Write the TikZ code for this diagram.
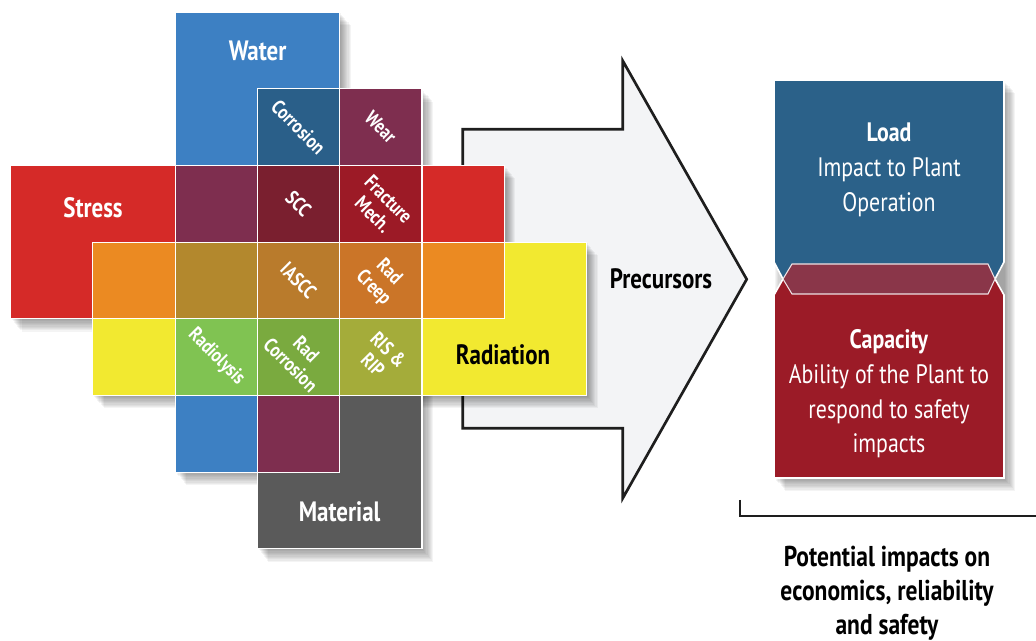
\documentclass[tikz,border=0pt]{standalone}
\usepackage{fontspec}
\setmainfont{PT Sans}[FakeStretch=0.82]
\usetikzlibrary{calc}
\definecolor{cWater}{HTML}{3D80C3}
\definecolor{cCorr}{HTML}{2A5F89}
\definecolor{cPurp}{HTML}{7E2E4F}
\definecolor{cRed}{HTML}{D52A28}
\definecolor{cSCC}{HTML}{7A1F2F}
\definecolor{cFrac}{HTML}{9C1A26}
\definecolor{cOrange}{HTML}{EB8A22}
\definecolor{cOchre}{HTML}{B3882D}
\definecolor{cIASCC}{HTML}{B97B2C}
\definecolor{cCreep}{HTML}{CB7528}
\definecolor{cYellow}{HTML}{F2E930}
\definecolor{cRadio}{HTML}{80C352}
\definecolor{cRadCorr}{HTML}{7AAA3F}
\definecolor{cRIS}{HTML}{A4AC3A}
\definecolor{cGray}{HTML}{5A5A5A}
\definecolor{cLoad}{HTML}{2B6189}
\definecolor{cCap}{HTML}{9B1B27}
\definecolor{cBand}{HTML}{8A3649}
\definecolor{cArrow}{HTML}{F3F4F6}
\definecolor{cLine}{HTML}{1E1E1E}
\newcommand\gridcell[6]{%
  \node[cellbox, fill=#6, minimum width={(#4-#2)*0.75pt}, minimum height={(#5-#3)*0.75pt}] (#1) at ({(#2+#4)/2},{(#3+#5)/2}) {};}
\newcommand\softshadow[4]{%
  \foreach \i in {1,...,10} {\fill[black,opacity=0.045] ({#1+\i*1.1},{#2+\i*1.3}) rectangle ({#3+\i*1.1},{#4+\i*1.3});}}
\begin{document}
\begin{tikzpicture}[x=0.75pt,y=-0.75pt,
  cellbox/.style={draw=white, line width=0.8pt, inner sep=0pt},
  biglabel/.style={font=\bfseries\fontsize{21}{25}\selectfont, text=white, inner sep=0pt},
  smalllabel/.style={font=\bfseries\fontsize{15}{16.5}\selectfont, text=white, rotate=-45, align=center, inner sep=0pt},
  bodytext/.style={font=\fontsize{20}{26}\selectfont, text=white, align=center, inner sep=0pt},
  arrowshape/.style={fill=cArrow, draw=cLine, line width=2pt, line join=miter},
  bracket/.style={draw=cLine, line width=1.5pt}]
\useasboundingbox (0,0) rectangle (1036,641);
\def\Xa{10.5}\def\Xb{92.8}\def\Xc{175.1}\def\Xd{257.4}\def\Xe{339.7}\def\Xf{422.0}\def\Xg{504.3}\def\Xh{586.6}
\def\Ya{12}\def\Yb{88.7}\def\Yc{165.4}\def\Yd{242.1}\def\Ye{318.8}\def\Yf{395.5}\def\Yg{472.2}\def\Yh{548.9}
% big arrow
\path[arrowshape] (462.7,129.3) -- (622.7,129.3) -- (622.7,60.7) -- (746.7,279.3) -- (622.7,498.3) -- (622.7,428.3) -- (462.7,428.3) -- cycle;
\node[font=\bfseries\fontsize{21}{25}\selectfont, inner sep=0pt] (prec) at (661,279) {Precursors};
% shadows of the four blocks
\softshadow{\Xc}{\Ya}{\Xe}{\Yg}
\softshadow{\Xd}{\Yb}{\Xf}{\Yh}
\softshadow{\Xa}{\Yc}{\Xg}{\Ye}
\softshadow{\Xb}{\Yd}{\Xh}{\Yf}
% base blocks
\gridcell{water}{\Xc}{\Ya}{\Xe}{\Yc}{cWater}
\gridcell{stress}{\Xa}{\Yc}{\Xc}{\Ye}{cRed}
\gridcell{radiation}{\Xf}{\Yd}{\Xh}{\Yf}{cYellow}
\gridcell{material}{\Xd}{\Yf}{\Xf}{\Yh}{cGray}
% row 1
\gridcell{corrosion}{\Xd}{\Yb}{\Xe}{\Yc}{cCorr}
\gridcell{wear}{\Xe}{\Yb}{\Xf}{\Yc}{cPurp}
% row 2
\gridcell{p2}{\Xc}{\Yc}{\Xd}{\Yd}{cPurp}
\gridcell{scc}{\Xd}{\Yc}{\Xe}{\Yd}{cSCC}
\gridcell{frac}{\Xe}{\Yc}{\Xf}{\Yd}{cFrac}
\gridcell{r2}{\Xf}{\Yc}{\Xg}{\Yd}{cRed}
% row 3
\gridcell{o1}{\Xb}{\Yd}{\Xc}{\Ye}{cOrange}
\gridcell{och}{\Xc}{\Yd}{\Xd}{\Ye}{cOchre}
\gridcell{iascc}{\Xd}{\Yd}{\Xe}{\Ye}{cIASCC}
\gridcell{creep}{\Xe}{\Yd}{\Xf}{\Ye}{cCreep}
\gridcell{o2}{\Xf}{\Yd}{\Xg}{\Ye}{cOrange}
% row 4
\gridcell{y1}{\Xb}{\Ye}{\Xc}{\Yf}{cYellow}
\gridcell{radio}{\Xc}{\Ye}{\Xd}{\Yf}{cRadio}
\gridcell{radcorr}{\Xd}{\Ye}{\Xe}{\Yf}{cRadCorr}
\gridcell{ris}{\Xe}{\Ye}{\Xf}{\Yf}{cRIS}
% row 5
\gridcell{b5}{\Xc}{\Yf}{\Xd}{\Yg}{cWater}
\gridcell{p5}{\Xd}{\Yf}{\Xe}{\Yg}{cPurp}
% big labels
\node[biglabel] (lwater) at (257.6,51) {Water};
\node[biglabel] (lstress) at (93,208) {Stress};
\node[biglabel, text=black] (lrad) at (503,354.5) {Radiation};
\node[biglabel] (lmat) at (339.6,512) {Material};
% small labels
\node[smalllabel] at (corrosion) {Corrosion};
\node[smalllabel] at (wear) {Wear};
\node[smalllabel] at (scc) {SCC};
\node[smalllabel] at ($(frac)+(0,3)$) {Fracture\\Mech.};
\node[smalllabel] at (iascc) {IASCC};
\node[smalllabel] at (creep) {Rad\\Creep};
\node[smalllabel] at (radio) {Radiolysis};
\node[smalllabel] at (radcorr) {Rad\\Corrosion};
\node[smalllabel] at (ris) {RIS \&\\RIP};
% right boxes
\softshadow{774}{80}{1004}{478}
\path[fill=cLoad, draw=white, line width=1.2pt] (774,80) -- (1004,80) -- (1004,262) -- (995,279) -- (783,279) -- (774,262) -- cycle;
\path[fill=cCap, draw=white, line width=1.2pt] (783,279) -- (995,279) -- (1004,295) -- (1004,478) -- (774,478) -- (774,295) -- cycle;
\path[fill=cBand, draw=white!85!cBand, line width=0.8pt] (792,264) -- (988,264) -- (995,279) -- (988,294) -- (792,294) -- (783,279) -- cycle;
\node[bodytext] (load) at (889,170) {\textbf{Load}\\Impact to Plant\\Operation};
\node[bodytext] (cap) at (889,394) {\textbf{Capacity}\\Ability of the Plant to\\respond to safety\\impacts};
% bracket
\coordinate (bk1) at (740,500);
\coordinate (bk2) at (740,516);
\coordinate (bk3) at (1036,516);
\draw[bracket] (bk1) -- (bk2) -- (bk3);
\node[font=\bfseries\fontsize{21.5}{25.5}\selectfont, align=center, inner sep=0pt] (impacts) at (887,593) {Potential impacts on\\economics, reliability\\and safety};
\end{tikzpicture}
\end{document}
